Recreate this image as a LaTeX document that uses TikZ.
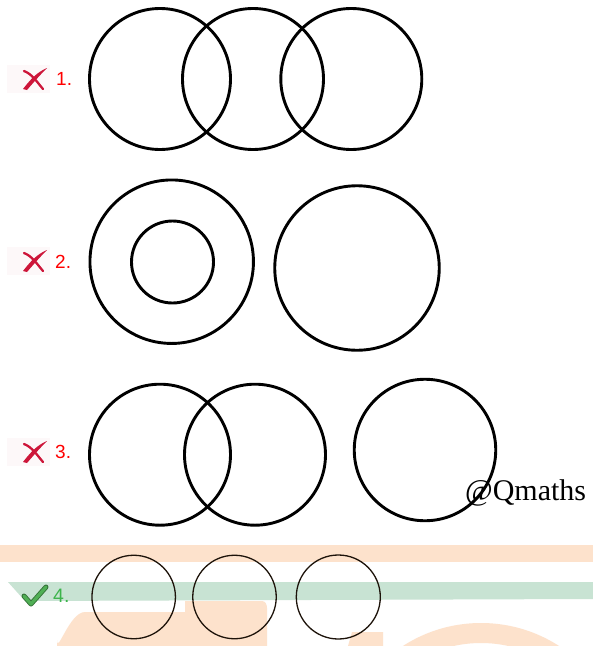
\documentclass[tikz,border=0pt]{standalone}
\usepackage{fontspec}
\setmainfont{Liberation Serif}
\newfontfamily\labfont{Liberation Sans}
\begin{document}
\begin{tikzpicture}[x=1pt,y=-1pt,
  ring/.style={circle,draw=black,line width=2.9pt,inner sep=0pt,outer sep=0pt},
  thinring/.style={circle,draw=black!85!brown,line width=1.3pt,inner sep=0pt,outer sep=0pt},
  wronglab/.style={anchor=base west,inner sep=0pt,text=red,font=\labfont\fontsize{19}{19}\selectfont},
  rightlab/.style={anchor=base west,inner sep=0pt,text=okgreen,font=\labfont\fontsize{19.5}{19.5}\selectfont}]
\definecolor{xred}{RGB}{205,22,58}
\definecolor{okgreen}{RGB}{60,180,75}
\definecolor{checkgreen}{RGB}{80,175,85}
\definecolor{peach}{RGB}{253,226,204}
\definecolor{mint}{RGB}{200,227,211}
\useasboundingbox (0,0) rectangle (593,646);
\fill[white] (0,0) rectangle (593,646);
% watermark
\fill[peach] (0,545) rectangle (593,562);
\fill[mint] (8,582) -- (593,582) -- (593,599) -- (25,601) -- cycle;
\fill[peach] (185,601) -- (262,601) to[out=0,in=90] (267,608) -- (267,646) -- (57,646) -- (57,640) to[out=-90,in=180] (85,612) -- (185,612) -- cycle;
\fill[peach] (352,632) -- (383,632) -- (383,646) -- (348,646) -- cycle;
\begin{scope}
\clip (0,0) rectangle (593,646);
\fill[peach,even odd rule] (481,767) circle[radius=144] (481,767) circle[radius=124];
\end{scope}
% icons
\foreach \cy/\nm in {79/i1,261/i2,452/i3}{
  \fill[xred!3] (7,\cy-14) rectangle (50,\cy+14);
  \fill[xred] (23,\cy+10) .. controls (30,\cy+1) and (37,\cy-7) .. (47,\cy-11)
     .. controls (40,\cy-4) and (33,\cy+4) .. (27,\cy+11) -- cycle;
  \draw[xred,line width=2.3pt,line cap=round] (24,\cy-8) .. controls (32,\cy-5) and (37,\cy+3) .. (43,\cy+10);
  \coordinate (\nm) at (28,\cy);
}
\draw[checkgreen!65!black,line width=5pt,line cap=round,line join=round] (24,596) -- (31,604) -- (46,587);
\draw[checkgreen,line width=3.2pt,line cap=round,line join=round] (24,596) -- (31,604) -- (46,587);
\coordinate (i4) at (33,596);
% labels
\node[wronglab] (l1) at (56,85) {1.};
\node[wronglab] (l2) at (55,268) {2.};
\node[wronglab] (l3) at (55,458) {3.};
\node[rightlab] (l4) at (53,602) {4.};
% row 1
\node[ring,minimum size=141pt] (a1) at (160,79) {};
\node[ring,minimum size=141pt] (a2) at (253,79) {};
\node[ring,minimum size=141pt] (a3) at (351.3,79) {};
% row 2
\node[ring,minimum size=163.5pt] (b1) at (171.7,261.7) {};
\node[ring,minimum size=82pt] (b2) at (172.5,262) {};
\node[ring,minimum size=164.5pt] (b3) at (357,268) {};
% row 3
\node[ring,minimum size=141pt] (c1) at (160,454.7) {};
\node[ring,minimum size=141pt] (c2) at (255,454.7) {};
\node[ring,minimum size=141.5pt] (c3) at (425,450) {};
% row 4
\node[thinring,minimum size=83.5pt] (d1) at (133.7,597) {};
\node[thinring,minimum size=83.5pt] (d2) at (234.5,597) {};
\node[thinring,minimum size=84pt] (d3) at (338.3,597) {};
% watermark text
\node[anchor=base west,inner sep=0pt,font=\fontsize{30}{30}\selectfont] (wm) at (465,500) {@Qmaths};
\end{tikzpicture}
\end{document}
